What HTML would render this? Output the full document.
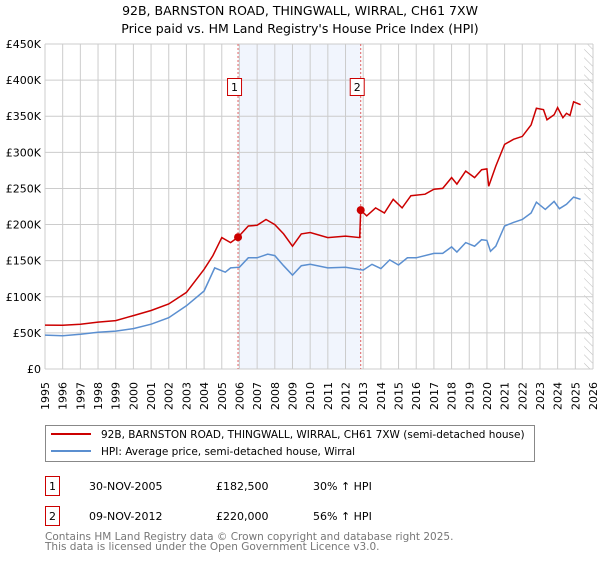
<!DOCTYPE html>
<html><head><meta charset="utf-8"><style>
body{margin:0;background:#fff;font-family:"DejaVu Sans","Liberation Sans",sans-serif;}
svg text{font-family:"DejaVu Sans","Liberation Sans",sans-serif;}
</style></head><body>
<svg id="c" width="600" height="560" xmlns="http://www.w3.org/2000/svg">
<defs><pattern id="hatch" width="6" height="6" patternUnits="userSpaceOnUse" patternTransform="rotate(-45)"><line x1="0" y1="0" x2="0" y2="6" stroke="#bbb" stroke-width="1"/></pattern></defs>
<text x="300" y="15" font-size="12.5" text-anchor="middle">92B, BARNSTON ROAD, THINGWALL, WIRRAL, CH61 7XW</text>
<text x="300" y="33" font-size="12.5" text-anchor="middle">Price paid vs. HM Land Registry's House Price Index (HPI)</text>
<g id="grid"></g><g id="marks"></g><g id="axes"></g>
<rect x="45.5" y="425.5" width="489" height="36" fill="#fff" stroke="#888"/>
<line x1="51" y1="434" x2="91" y2="434" stroke="#cc0000" stroke-width="2"/>
<text x="101" y="438" font-size="10.5">92B, BARNSTON ROAD, THINGWALL, WIRRAL, CH61 7XW (semi-detached house)</text>
<line x1="51" y1="451" x2="91" y2="451" stroke="#5b8fd0" stroke-width="2"/>
<text x="101" y="455" font-size="10.5">HPI: Average price, semi-detached house, Wirral</text>
<g>
<rect x="45.5" y="476.5" width="14" height="19" fill="none" stroke="#cc0000"/>
<text x="52.5" y="490" font-size="11" text-anchor="middle">1</text>
<text x="89" y="490" font-size="11">30-NOV-2005</text>
<text x="216" y="490" font-size="11">£182,500</text>
<text x="313" y="490" font-size="11">30% ↑ HPI</text></g>
<g>
<rect x="45.5" y="506.5" width="14" height="19" fill="none" stroke="#cc0000"/>
<text x="52.5" y="520" font-size="11" text-anchor="middle">2</text>
<text x="89" y="520" font-size="11">09-NOV-2012</text>
<text x="216" y="520" font-size="11">£220,000</text>
<text x="313" y="520" font-size="11">56% ↑ HPI</text></g>
<text x="45" y="540" font-size="10.5" fill="#777">Contains HM Land Registry data © Crown copyright and database right 2025.</text>
<text x="45" y="550" font-size="10.5" fill="#777">This data is licensed under the Open Government Licence v3.0.</text>
</svg>
<script>
const yTicks=[0,50000,100000,150000,200000,250000,300000,350000,400000,450000];
const yTickLabels=["£0","£50K","£100K","£150K","£200K","£250K","£300K","£350K","£400K","£450K"];
const xYears=[1995,1996,1997,1998,1999,2000,2001,2002,2003,2004,2005,2006,2007,2008,2009,2010,2011,2012,2013,2014,2015,2016,2017,2018,2019,2020,2021,2022,2023,2024,2025,2026];
const redT=[1995,1996,1997,1998,1999,2000,2001,2002,2003,2004,2004.5,2005,2005.5,2005.92,2006.5,2007,2007.5,2008,2008.5,2009,2009.5,2010,2011,2012,2012.8,2012.86,2013.2,2013.7,2014.2,2014.7,2015.2,2015.7,2016.5,2017,2017.5,2018,2018.3,2018.8,2019.3,2019.7,2020,2020.1,2020.5,2021,2021.5,2022,2022.5,2022.8,2023.2,2023.4,2023.8,2024,2024.3,2024.5,2024.7,2024.9,2025.3];
const redV=[60800,60500,62000,65000,67000,74000,81000,90000,106000,138000,157000,182000,175000,182500,198000,199000,207000,200000,187000,170000,187000,189000,182000,184000,182000,220000,212000,223000,216000,235000,223000,240000,242000,249000,250000,265000,256000,274000,265000,276000,277000,253000,281000,311000,318000,322000,338000,361000,359000,345000,352000,362000,348000,354000,351000,370000,366000];
const blueT=[1995,1996,1997,1998,1999,2000,2001,2002,2003,2004,2004.6,2005.2,2005.5,2006,2006.5,2007,2007.6,2008,2008.5,2009,2009.5,2010,2011,2012,2013,2013.5,2014,2014.5,2015,2015.5,2016,2017,2017.5,2018,2018.3,2018.8,2019.3,2019.7,2020,2020.2,2020.5,2021,2021.5,2022,2022.5,2022.8,2023.3,2023.8,2024.1,2024.5,2024.9,2025.3];
const blueV=[47000,46000,48000,51000,52500,56000,62000,71000,87500,108000,140000,134000,140000,141000,154000,154000,159000,157000,143000,130000,143000,145000,140000,141000,137000,145000,139000,151000,144000,154000,154000,160000,160000,169000,162000,175000,170000,179000,178000,163000,170000,198000,203000,207000,216000,231000,221000,232000,222000,228000,238000,235000];
const sales=[[2005.92,182500,"1"],[2012.86,220000,"2"]];
const L=45,R=593,T=44,B=369;
const xs=t=>L+(t-1995)/(2026-1995)*(R-L);
const ys=v=>B-v/450000*(B-T);
const NS="http://www.w3.org/2000/svg";
function mk(p,tag,a){const e=document.createElementNS(NS,tag);for(const k in a)e.setAttribute(k,a[k]);p.appendChild(e);return e;}
const grid=document.getElementById('grid'),marks=document.getElementById('marks'),axes=document.getElementById('axes');
const band=mk(grid,'rect',{x:xs(sales[0][0]),y:T,width:xs(sales[1][0])-xs(sales[0][0]),height:B-T,fill:'#eef3fc',opacity:0.8});


const hat=mk(grid,'rect',{x:xs(2025.5),y:T,width:R-xs(2025.5),height:B-T,fill:'url(#hatch)'});


xYears.forEach(y=>{const l=mk(grid,'line',{x1:xs(y),x2:xs(y),y1:T,y2:B,stroke:'#ccc'});


const px=xs(y)+4,py=382;
const t=mk(axes,'text',{x:px,y:py,'font-size':11,'text-anchor':'end',transform:'rotate(-90 '+px+' '+py+')'});t.textContent=y;

});
yTicks.forEach((v,i)=>{const l=mk(grid,'line',{x1:L,x2:R,y1:ys(v),y2:ys(v),stroke:'#ccc'});


const t=mk(axes,'text',{x:L-4,y:ys(v)+4,'font-size':11,'text-anchor':'end'});t.textContent=yTickLabels[i];

});
sales.forEach(s=>{const l=mk(marks,'line',{x1:xs(s[0]),x2:xs(s[0]),y1:T,y2:B,stroke:'#e06060','stroke-dasharray':'2,2'});

});
function path(tt,vv,col,name){const d=tt.map((t,i)=>(i?'L':'M')+xs(t).toFixed(1)+','+ys(vv[i]).toFixed(1)).join('');
const p=mk(marks,'path',{d:d,fill:'none',stroke:col,'stroke-width':1.5});

}
path(blueT,blueV,'#5b8fd0','hpi-line');
path(redT,redV,'#cc0000','property-price-line');
sales.forEach(s=>{const c=mk(marks,'circle',{cx:xs(s[0]),cy:ys(s[1]),r:4,fill:'#cc0000'});


const g=mk(marks,'g',{});


mk(g,'rect',{x:xs(s[0])-10.5,y:78.5,width:14,height:17,fill:'#fff',stroke:'#cc0000'});
const t=mk(g,'text',{x:xs(s[0])-3.5,y:91,'font-size':11,'text-anchor':'middle'});t.textContent=s[2];});
</script>
</body></html>
